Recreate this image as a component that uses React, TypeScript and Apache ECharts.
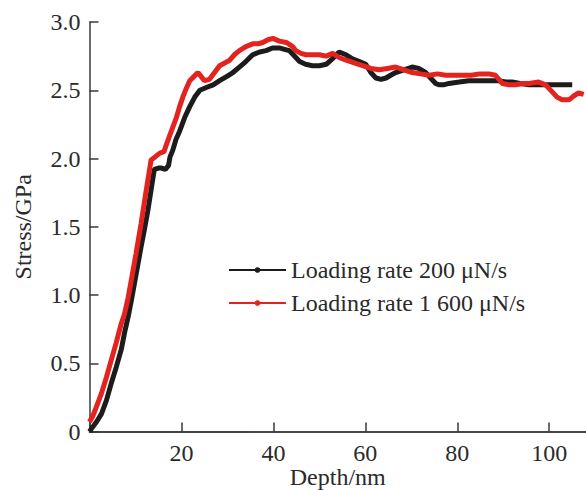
import React, { useEffect, useRef } from "react";
import * as echarts from "echarts";

const seriesNames = ["Loading rate 200 \u03bcN/s", "Loading rate 1 600 \u03bcN/s"];

const rate200: [number, number][] = [
  [0, 0], [0.4, 0.02], [1.5, 0.07], [2.6, 0.13], [3.7, 0.23], [4.7, 0.35], [5.8, 0.47], [6.9, 0.6],
  [7.6, 0.72], [8.4, 0.84], [9.1, 0.96], [9.8, 1.09], [10.5, 1.22], [11.2, 1.35], [12, 1.49],
  [12.7, 1.62], [13.4, 1.77], [14.1, 1.92], [15, 1.93], [15.7, 1.93], [16.5, 1.92], [17.2, 1.95],
  [17.5, 2.01], [18.1, 2.06], [18.8, 2.14], [19.6, 2.2], [20.7, 2.3], [21.8, 2.38], [22.9, 2.45],
  [24, 2.5], [25.4, 2.52], [26.9, 2.54], [28.3, 2.57], [29.8, 2.6], [31.2, 2.63], [32.6, 2.67],
  [34, 2.71], [35.5, 2.76], [37, 2.78], [38.4, 2.79], [39.8, 2.81], [41.3, 2.81], [42.4, 2.8],
  [43.5, 2.79], [44.9, 2.74], [45.7, 2.71], [47, 2.69], [48.5, 2.68], [50, 2.68], [51.5, 2.69],
  [52.8, 2.73], [54.3, 2.78], [55.8, 2.76], [57.2, 2.73], [58.7, 2.71], [60.1, 2.69], [61.2, 2.63],
  [62.3, 2.59], [63.4, 2.58], [64.5, 2.59], [65.5, 2.61], [66.6, 2.63], [68.4, 2.65], [70.2, 2.67],
  [71.6, 2.66], [73.1, 2.63], [74.2, 2.59], [75.3, 2.55], [76, 2.54], [77, 2.54], [78.2, 2.55],
  [80.4, 2.56], [82.5, 2.57], [84.7, 2.57], [87, 2.57], [89, 2.57], [90.5, 2.56], [91.9, 2.56],
  [93.7, 2.55], [95.6, 2.54], [97.4, 2.54], [99.2, 2.54], [101, 2.54], [103, 2.54], [105, 2.54],
];

const rate1600: [number, number][] = [
  [0, 0.07], [0.8, 0.12], [1.7, 0.2], [2.6, 0.28], [3.7, 0.4], [4.7, 0.52], [5.8, 0.65], [6.9, 0.79],
  [7.6, 0.86], [8.4, 0.98], [9.1, 1.11], [10.1, 1.3], [11.2, 1.52], [12.3, 1.76], [13.4, 1.99],
  [14.2, 2.01], [15.3, 2.04], [16.2, 2.05], [16.7, 2.1], [17.8, 2.2], [18.9, 2.3], [19.6, 2.38],
  [20.3, 2.45], [21, 2.51], [21.8, 2.57], [22.7, 2.6], [23.6, 2.63], [24.3, 2.6], [25, 2.57],
  [26.1, 2.58], [27.2, 2.63], [28.3, 2.68], [29.4, 2.7], [30.5, 2.72], [31.5, 2.76], [32.6, 2.79],
  [34, 2.82], [35.5, 2.84], [36.6, 2.84], [37.7, 2.85], [38.8, 2.87], [39.9, 2.88], [41.3, 2.86],
  [42.8, 2.85], [44.2, 2.82], [44.9, 2.79], [46, 2.77], [47.1, 2.76], [48.5, 2.76], [50, 2.76],
  [51.5, 2.75], [52.9, 2.77], [54.3, 2.74], [55.8, 2.72], [57.6, 2.7], [59.4, 2.68], [61.2, 2.66],
  [63, 2.65], [64.8, 2.66], [66.6, 2.67], [68.4, 2.65], [70.2, 2.63], [72, 2.62], [73.9, 2.61],
  [75.7, 2.62], [77.5, 2.61], [79.3, 2.61], [81.1, 2.61], [83, 2.61], [84.9, 2.62], [86.9, 2.62],
  [88.3, 2.61], [89.8, 2.55], [91.2, 2.54], [92.7, 2.54], [94.2, 2.55], [95.6, 2.55], [97.7, 2.56],
  [99.2, 2.54], [100.6, 2.49], [101.7, 2.45], [102.8, 2.43], [104.3, 2.43], [105.4, 2.46],
  [106.4, 2.48], [107.5, 2.47],
];

const FONT = "Liberation Serif";
const AXIS_COLOR = "#3a3a3a";
const TEXT_COLOR = "#2a2a2a";

export default function App() {
  const ref = useRef<HTMLDivElement>(null);
  useEffect(() => {
    if (!ref.current) return;
    const chart = echarts.init(ref.current, undefined, { renderer: "svg" });
    chart.setOption({
      animation: false,
      backgroundColor: "#ffffff",
      grid: { left: 89.5, right: 0, top: 22, bottom: 58.4, containLabel: false, outerBoundsMode: "none" },
      legend: {
        orient: "vertical",
        left: 223,
        top: 253,
        itemWidth: 57,
        itemHeight: 7,
        itemGap: 9,
        data: seriesNames,
        lineStyle: { width: 2 },
        textStyle: { fontFamily: FONT, fontSize: 24, color: TEXT_COLOR, padding: [0, 0, 0, 0] },
      },
      xAxis: [
        {
          type: "value",
          min: 0,
          max: 108,
          interval: 20,
          name: "Depth/nm",
          nameLocation: "middle",
          nameGap: 32,
          nameMoveOverlap: false,
          nameTextStyle: { fontFamily: FONT, fontSize: 24, color: TEXT_COLOR, lineHeight: 26 },
          axisLine: { show: true, onZero: false, lineStyle: { color: AXIS_COLOR, width: 1.5 } },
          axisTick: { show: true, inside: true, length: 9, lineStyle: { color: AXIS_COLOR, width: 1.5 } },
          axisLabel: {
            fontFamily: FONT,
            fontSize: 24,
            color: TEXT_COLOR,
            margin: 9,
            showMaxLabel: false,
            formatter: (v: number) => (v === 0 || v > 100 ? "" : String(v)),
          },
          splitLine: { show: false },
        },
        {
          type: "value",
          position: "top",
          min: 0,
          max: 108,
          axisLine: { show: true, lineStyle: { color: AXIS_COLOR, width: 1.5 } },
          axisTick: { show: false },
          axisLabel: { show: false },
          splitLine: { show: false },
        },
      ],
      yAxis: {
        type: "value",
        min: 0,
        max: 3,
        interval: 0.5,
        name: "Stress/GPa",
        nameLocation: "middle",
        nameGap: 55,
        nameTextStyle: { fontFamily: FONT, fontSize: 24, color: TEXT_COLOR },
        axisLine: { show: true, onZero: false, lineStyle: { color: AXIS_COLOR, width: 1.5 } },
        axisTick: { show: true, inside: true, length: 9, lineStyle: { color: AXIS_COLOR, width: 1.5 } },
        axisLabel: {
          fontFamily: FONT,
          fontSize: 24,
          color: TEXT_COLOR,
          margin: 9,
          formatter: (v: number) => (v === 0 ? "0" : v.toFixed(1)),
        },
        splitLine: { show: false },
      },
      series: [
        {
          name: seriesNames[0],
          type: "line",
          data: rate200,
          symbol: "circle",
          symbolSize: 6,
          showSymbol: false,
          color: "#1c1c1c",
          lineStyle: { color: "#1c1c1c", width: 5 },
          z: 2,
        },
        {
          name: seriesNames[1],
          type: "line",
          data: rate1600,
          symbol: "circle",
          symbolSize: 6,
          showSymbol: false,
          color: "#e4231e",
          lineStyle: { color: "#e4231e", width: 5 },
          z: 3,
        },
      ],
    });
    return () => chart.dispose();
  }, []);
  return (
    <div
      ref={ref}
      style={{ position: "fixed", left: 0, top: 0, width: 586, height: 490, background: "#fff" }}
    />
  );
}
